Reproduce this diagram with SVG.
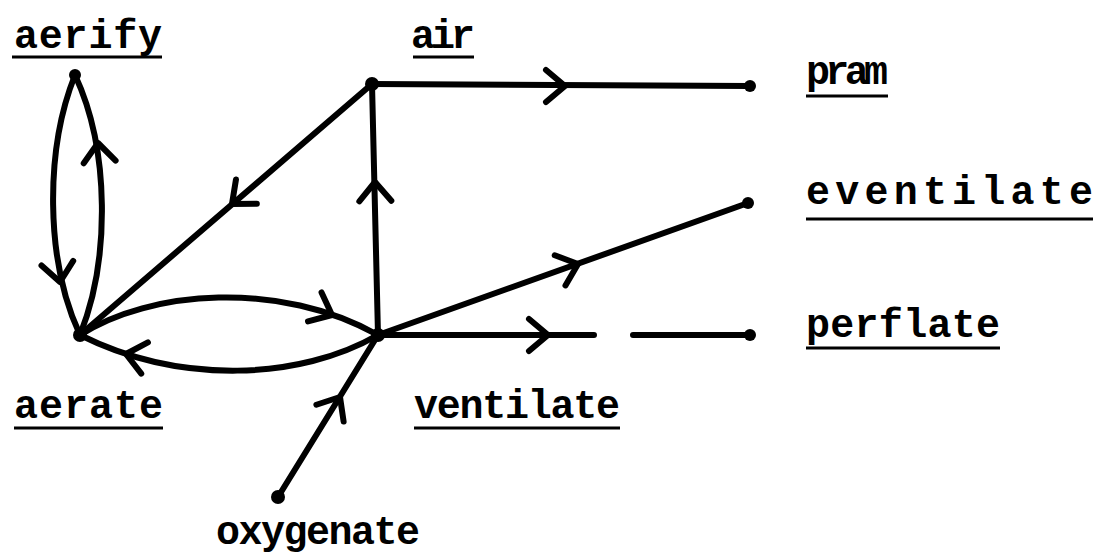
<svg xmlns="http://www.w3.org/2000/svg" xmlns:xlink="http://www.w3.org/1999/xlink" width="1103" height="557" viewBox="0 0 1103 557">
<style>
.lbl{font-family:"Liberation Mono","DejaVu Sans Mono",monospace;font-size:40px;font-weight:bold;fill:#000;}
.ul{stroke:#000;stroke-width:3;}
.edge{fill:none;stroke:#000;stroke-width:6;stroke-linecap:round;}
.dot{fill:#000;}
</style>
<defs>
<path id="ah" d="M-19,-16 L0,0 L-19,16" fill="none" stroke="#000" stroke-width="6" stroke-linecap="round" stroke-linejoin="round"/>
</defs>
<rect width="1103" height="557" fill="#fff"/>
<g id="connectors">
<path class="edge" d="M75,75 C45,150 45,260 80,335"/>
<path class="edge" d="M80,335 C110,260 110,150 75,75"/>
<path class="edge" d="M372,84 L80,335"/>
<path class="edge" d="M378,335 L372,84"/>
<path class="edge" d="M372,84 L750,86"/>
<path class="edge" d="M80,335 C150,290 280,280 378,335"/>
<path class="edge" d="M378,335 C300,380 180,385 80,335"/>
<path class="edge" d="M278,497 L378,335"/>
<path class="edge" d="M378,335 L748,203"/>
<path class="edge" d="M378,335 L594,335 M633,335 L750,335"/>
<use xlink:href="#ah" transform="translate(60,282) rotate(82)"/>
<use xlink:href="#ah" transform="translate(98,143) rotate(-95)"/>
<use xlink:href="#ah" transform="translate(232,204) rotate(139.3)"/>
<use xlink:href="#ah" transform="translate(375,182) rotate(-91)"/>
<use xlink:href="#ah" transform="translate(565,86) rotate(0)"/>
<use xlink:href="#ah" transform="translate(332,315) rotate(25)"/>
<use xlink:href="#ah" transform="translate(126,354) rotate(192)"/>
<use xlink:href="#ah" transform="translate(340,397) rotate(-58.3)"/>
<use xlink:href="#ah" transform="translate(578,264) rotate(-19.6)"/>
<use xlink:href="#ah" transform="translate(548,335) rotate(0)"/>
</g>
<g id="aerify">
<circle class="dot" cx="75" cy="75" r="6"/>
<text class="lbl" x="14" y="48" textLength="148">aerify</text>
<line class="ul" x1="12" y1="57" x2="162" y2="57"/>
</g>
<g id="air">
<circle class="dot" cx="372" cy="84" r="7"/>
<text class="lbl" x="411" y="48" textLength="64">air</text>
<line class="ul" x1="413" y1="57" x2="474" y2="57"/>
</g>
<g id="pram">
<circle class="dot" cx="750" cy="86" r="6"/>
<text class="lbl" x="806" y="84" textLength="82">pram</text>
<line class="ul" x1="806" y1="96" x2="888" y2="96"/>
</g>
<g id="eventilate">
<circle class="dot" cx="748" cy="203" r="6"/>
<text class="lbl" x="806" y="204" textLength="287">eventilate</text>
<line class="ul" x1="806" y1="219" x2="1093" y2="219"/>
</g>
<g id="perflate">
<circle class="dot" cx="750" cy="335" r="6"/>
<text class="lbl" x="806" y="337" textLength="194">perflate</text>
<line class="ul" x1="806" y1="348" x2="1000" y2="348"/>
</g>
<g id="aerate">
<circle class="dot" cx="80" cy="335" r="7"/>
<text class="lbl" x="14" y="418" textLength="149">aerate</text>
<line class="ul" x1="14" y1="428" x2="163" y2="428"/>
</g>
<g id="ventilate">
<circle class="dot" cx="378" cy="335" r="7"/>
<text class="lbl" x="414" y="418" textLength="206">ventilate</text>
<line class="ul" x1="414" y1="428" x2="620" y2="428"/>
</g>
<g id="oxygenate">
<circle class="dot" cx="278" cy="497" r="7"/>
<text class="lbl" x="216" y="544" textLength="204">oxygenate</text>
</g>
</svg>
